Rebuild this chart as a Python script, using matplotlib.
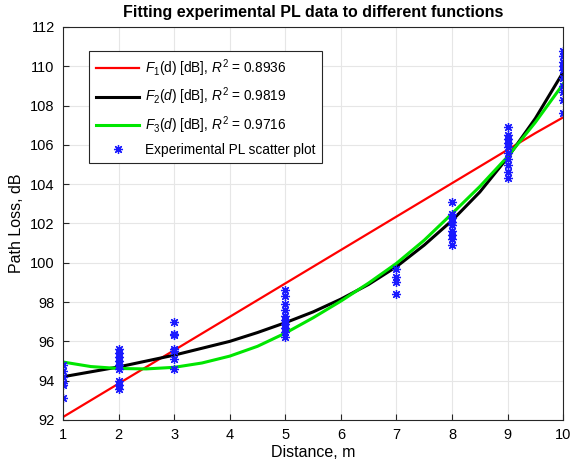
import numpy as np
import matplotlib
matplotlib.use('Agg')
import matplotlib.pyplot as plt
from matplotlib import rc

rc('font', family='Liberation Sans', size=10)
rc('mathtext', fontset='custom', rm='Liberation Sans', it='Liberation Sans:italic')

# =============================================================================
# Data
# =============================================================================
# experimental path loss samples, grouped by distance
dist_pts = [1, 2, 3, 5, 7, 8, 9, 10]
pl_pts = [
    [94.8, 94.5, 94.2, 93.9, 93.8, 93.1],
    [95.6, 95.4, 95.2, 95.0, 94.8, 94.6, 94.0, 93.8, 93.6],
    [97.0, 96.4, 96.3, 95.6, 95.5, 95.1, 94.6],
    [98.6, 98.3, 97.9, 97.6, 97.3, 97.1, 96.9, 96.7, 96.5, 96.2],
    [99.7, 99.3, 99.0, 98.4],
    [103.1, 102.5, 102.3, 102.1, 101.9, 101.6, 101.4, 101.2, 100.9],
    [106.9, 106.5, 106.3, 106.1, 105.9, 105.6, 105.3, 105.0, 104.6, 104.3],
    [110.8, 110.5, 110.2, 110.0, 109.8, 109.4, 109.0, 108.7, 108.3, 107.6],
]

# fitted curves
d_fit = [1, 1.5, 2, 2.5, 3, 3.5, 4, 4.5, 5, 5.5, 6, 6.5, 7, 7.5, 8, 8.5, 9, 9.5, 10]
f1 = [92.15, 93.0, 93.85, 94.7, 95.55, 96.4, 97.25, 98.1, 98.95, 99.8, 100.65,
      101.5, 102.35, 103.2, 104.05, 104.9, 105.75, 106.6, 107.4]
f2 = [94.2, 94.45, 94.7, 95.0, 95.3, 95.65, 96.0, 96.45, 96.95, 97.5, 98.15,
      98.9, 99.8, 100.9, 102.15, 103.6, 105.35, 107.35, 109.7]
f3 = [94.95, 94.72, 94.62, 94.6, 94.68, 94.9, 95.25, 95.75, 96.42, 97.2, 98.05,
      98.97, 99.97, 101.15, 102.5, 103.88, 105.4, 107.15, 109.1]

r2 = [0.8936, 0.9819, 0.9716]

# =============================================================================
# Plot
# =============================================================================
fig = plt.figure(figsize=(5.7, 4.7), dpi=100)
ax = fig.add_axes([0.1105, 0.1064, 0.8775, 0.8362])

ax.plot(d_fit, f1, color='#ff0000', lw=1.6,
        label=r'$F_{\mathit{1}}$(d) [dB], $R^2$ = %.4f' % r2[0])
ax.plot(d_fit, f2, color='black', lw=2.2,
        label=r'$F_{\mathit{2}}$$\mathit{(d)}$ [dB], $R^2$ = %.4f' % r2[1])
ax.plot(d_fit, f3, color='#00e600', lw=2.2,
        label=r'$F_{\mathit{3}}$$\mathit{(d)}$ [dB], $R^2$ = %.4f' % r2[2])

xs = np.concatenate([[d] * len(p) for d, p in zip(dist_pts, pl_pts)])
ys = np.concatenate(pl_pts)
ax.plot(xs, ys, linestyle='none', marker=(8, 2, 0), markersize=6.5,
        markeredgewidth=0.9, color='#1a1aff', label='Experimental PL scatter plot')

ax.set_xlim(1, 10)
ax.set_ylim(92, 112)
ax.set_xticks(range(1, 11))
ax.set_yticks(range(92, 113, 2))
ax.grid(True, color='#e6e6e6', lw=0.8)
ax.set_axisbelow(True)
for s in ax.spines.values():
    s.set_color('#262626')
    s.set_linewidth(0.8)
ax.tick_params(direction='in', length=4, color='#262626', labelsize=10.5, pad=6)

ax.set_xlabel('Distance, m', fontsize=11.5, labelpad=2)
ax.set_ylabel('Path Loss, dB', fontsize=11.5, labelpad=4)
ax.set_title('Fitting experimental PL data to different functions',
             fontsize=11.5, fontweight='bold', pad=7)

leg = ax.legend(loc='upper left', bbox_to_anchor=(0.052, 0.94), fontsize=9.8,
                fancybox=False, edgecolor='#262626', framealpha=1,
                borderaxespad=0, handlelength=3.2, handletextpad=0.4,
                borderpad=0.5, labelspacing=0.5)
leg.get_frame().set_linewidth(0.8)

fig.savefig('out.png', dpi=100)
